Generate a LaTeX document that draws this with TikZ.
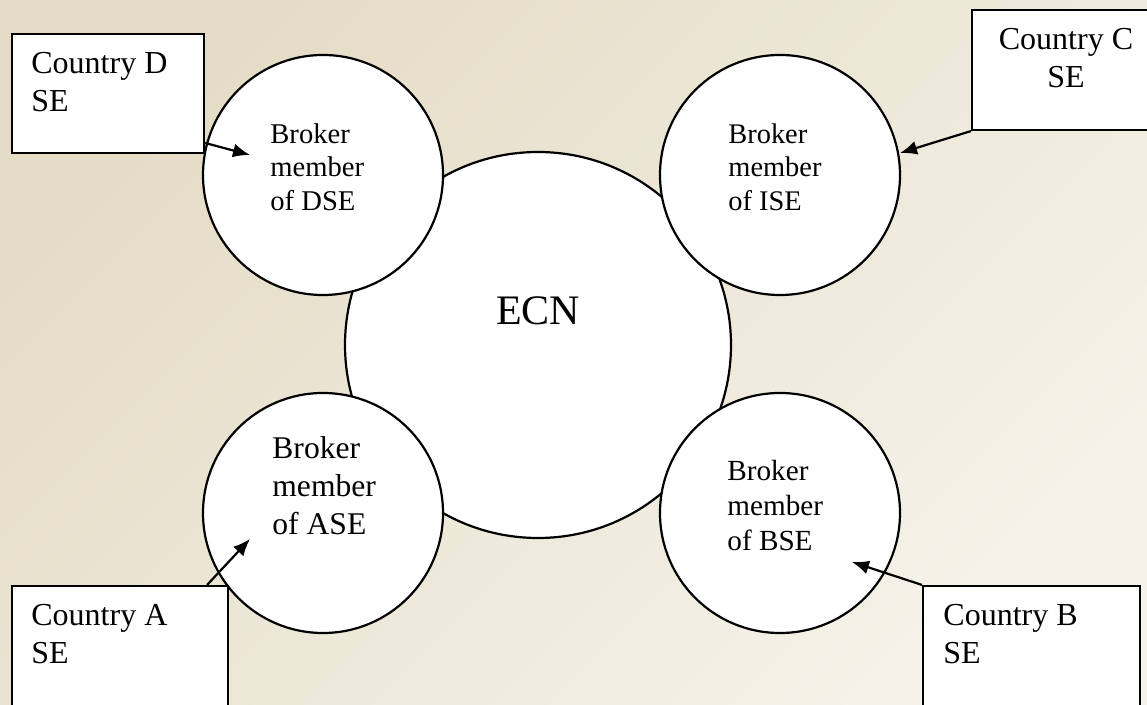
\documentclass[tikz,border=0pt]{standalone}
\usepackage{fontspec}
\setmainfont{Liberation Serif}
\usepackage{tikz}
\usetikzlibrary{arrows.meta}
\definecolor{bgdark}{RGB}{229,220,198}
\definecolor{bglight}{RGB}{245,242,233}
\tikzset{
	broker/.style={draw, circle, fill=white, line width=1.1pt, minimum size=120pt, inner sep=0pt},
	country/.style={draw, rectangle, fill=white, line width=1.1pt, inner sep=0pt},
	caption/.style={anchor=north west, align=left, inner sep=0pt},
	link/.style={line width=1.1pt, -{Latex[length=8.5pt,width=7pt]}}
}

\begin{document}
\begin{tikzpicture}[x=0.5pt,y=-0.5pt]
		\useasboundingbox (0,0) rectangle (1147,705);
		\clip (0,0) rectangle (1147,705);
		\shade[top color=bgdark, bottom color=bglight, shading angle=45] (0,0) rectangle (1147,705);
		\node[broker, minimum size=193pt] (ecn) at (538,345) {};
		\node[broker] (dse) at (323,175) {};
		\node[broker] (ise) at (780,175) {};
		\node[broker] (ase) at (323,513) {};
		\node[broker] (bse) at (780,513) {};
		\node[anchor=base, inner sep=0pt, font=\fontsize{21}{24}\selectfont] (ecnname) at (538,325) {ECN};
		\node[caption, font=\fontsize{14.3}{16.75}\selectfont] (dsename) at (270,123) {Broker\\member\\of DSE};
		\node[caption, font=\fontsize{14.2}{16.75}\selectfont] (isename) at (728,123) {Broker\\member\\of ISE};
		\node[caption, font=\fontsize{15.8}{19}\selectfont] (asename) at (272,436) {Broker\\member\\of ASE};
		\node[caption, font=\fontsize{14.6}{17.5}\selectfont] (bsename) at (727,460) {Broker\\member\\of BSE};
		\node[country, minimum width=96pt, minimum height=59.5pt] (countryd) at (108,93.5) {};
		\node[country, minimum width=99pt, minimum height=60pt] (countryc) at (1071,70) {};
		\node[country, minimum width=108pt, minimum height=72pt] (countrya) at (120,658) {};
		\node[country, minimum width=108.5pt, minimum height=72pt] (countryb) at (1031.5,658) {};
		\node[caption, font=\fontsize{16}{19}\selectfont] (dname) at (31,52) {Country D\\SE};
		\node[caption, anchor=north, align=center, font=\fontsize{16}{19}\selectfont] (cname) at (1066,28) {Country C\\SE};
		\node[caption, font=\fontsize{16}{19}\selectfont] (aname) at (31,604) {Country A\\SE};
		\node[caption, font=\fontsize{16}{19}\selectfont] (bname) at (943,604) {Country B\\SE};
		\coordinate (dsetip) at (250,155);
		\coordinate (isetip) at (900,153);
		\coordinate (asetip) at (250,539);
		\coordinate (bsetip) at (852,562);
		\draw[link] (countryd.-27) -- (dsetip);
		\draw[link] (countryc.south west) -- (isetip);
		\draw[link] (countrya.40.6) -- (asetip);
		\draw[link] (countryb.north west) -- (bsetip);
	\end{tikzpicture}
\end{document}
